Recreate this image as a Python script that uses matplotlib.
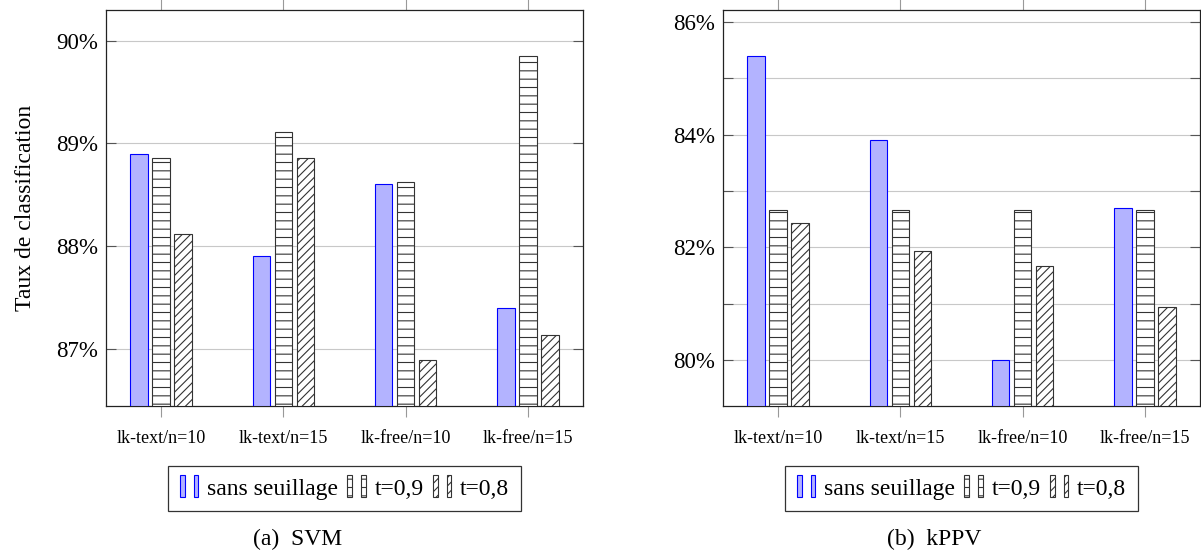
import numpy as np
import matplotlib
matplotlib.use("Agg")
import matplotlib.pyplot as plt
from matplotlib.patches import Rectangle
from matplotlib.ticker import FuncFormatter, MultipleLocator

plt.rcParams['font.family'] = ['Liberation Serif', 'DejaVu Serif']
plt.rcParams['hatch.linewidth'] = 0.8

categories = ['lk-text/n=10', 'lk-text/n=15', 'lk-free/n=10', 'lk-free/n=15']
series_names = ['sans seuillage', 't=0,9', 't=0,8']

# SVM (a)
svm_sans = [88.90, 87.90, 88.60, 87.40]
svm_t09 = [88.86, 89.11, 88.62, 89.85]
svm_t08 = [88.12, 88.86, 86.89, 87.13]

# kPPV (b)
knn_sans = [85.40, 83.90, 80.00, 82.70]
knn_t09 = [82.67, 82.67, 82.67, 82.67]
knn_t08 = [82.43, 81.94, 81.68, 80.94]

styles = [
    dict(facecolor='#b3b3ff', edgecolor='#0000ff', hatch=None),
    dict(facecolor='white', edgecolor='#333333', hatch='--'),
    dict(facecolor='white', edgecolor='#333333', hatch='////'),
]


class TwoBarHandler:
    # pgfplots-like ybar legend image: two small bars (sizes in points)
    def legend_artist(self, legend, orig_handle, fontsize, handlebox):
        x0, y0 = handlebox.xdescent, handlebox.ydescent
        h = 16
        yb = y0 + handlebox.height / 2 - h / 2
        st = orig_handle.st
        arts = []
        for dx, w in [(0, 3.6), (10, 3.3)]:
            r = Rectangle((x0 + dx, yb), w, h, facecolor=st['facecolor'],
                          edgecolor=st['edgecolor'], hatch=st['hatch'], lw=0.8,
                          transform=handlebox.get_transform())
            handlebox.add_artist(r)
            arts.append(r)
        return arts[0]


def draw_panel(ax, data, ylim, major, minor, ylabel=None):
    x = np.arange(len(categories))
    offs = [-0.18, 0, 0.18]
    handles = []
    for vals, off, st, name in zip(data, offs, styles, series_names):
        bars = ax.bar(x + off, np.array(vals) - ylim[0], bottom=ylim[0], width=0.14,
                      facecolor=st['facecolor'], edgecolor=st['edgecolor'],
                      hatch=st['hatch'], linewidth=0.8, label=name, zorder=3)
        h = bars.patches[0]
        h.st = st
        handles.append(h)
    ax.set_xlim(-0.45, 3.45)
    ax.set_ylim(*ylim)
    ax.set_xticks(x)
    ax.set_xticklabels(categories, fontsize=13)
    ax.tick_params(axis='x', direction='out', top=True, bottom=True, length=8,
                   color='#999999', width=0.8, pad=9)
    ax.yaxis.set_major_locator(MultipleLocator(major))
    ax.yaxis.set_minor_locator(MultipleLocator(minor))
    ax.yaxis.set_major_formatter(FuncFormatter(lambda v, p: f'{v:.0f}%'))
    ax.tick_params(axis='y', which='both', direction='in', left=True, right=True,
                   length=7, width=0.8, color='#555555', labelsize=16.5, pad=6)
    ax.grid(axis='y', which='both', color='#c8c8c8', lw=0.8, zorder=0)
    for s in ax.spines.values():
        s.set_linewidth(0.9)
        s.set_color('#222222')
    if ylabel:
        ax.set_ylabel(ylabel, fontsize=17, labelpad=14)
    leg = ax.legend(handles, series_names, loc='upper center', bbox_to_anchor=(0.5, -0.152),
                    ncol=3, fontsize=17, frameon=True, fancybox=False, edgecolor='black',
                    handler_map={Rectangle: TwoBarHandler()}, handlelength=0.8,
                    handletextpad=0.35, columnspacing=0.4, borderpad=0.5,
                    borderaxespad=0)
    leg.get_frame().set_linewidth(0.9)


fig = plt.figure(figsize=(12.01, 5.56), dpi=100)
W, H = 1201, 556
ax1 = fig.add_axes([106 / W, 1 - 406 / H, 477 / W, 396 / H])
ax2 = fig.add_axes([723 / W, 1 - 406 / H, 477 / W, 396 / H])

draw_panel(ax1, [svm_sans, svm_t09, svm_t08], (86.44, 90.3), 1, 1,
           ylabel='Taux de classification')
draw_panel(ax2, [knn_sans, knn_t09, knn_t08], (79.19, 86.21), 2, 1)

fig.text(298 / W, 1 - 539 / H, '(a)  SVM', ha='center', va='center', fontsize=17)
fig.text(934 / W, 1 - 539 / H, '(b)  kPPV', ha='center', va='center', fontsize=17)

fig.savefig('out.png', dpi=100)
